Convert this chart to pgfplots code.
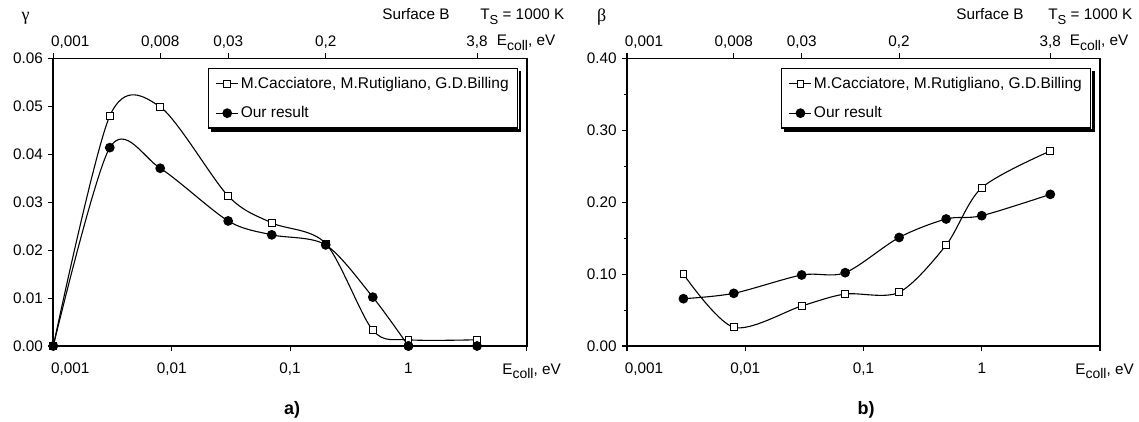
\documentclass[border=0pt]{standalone}
\usepackage{pgfplots}
\pgfplotsset{compat=1.18}
\usepackage{fontspec}
\setmainfont{Liberation Sans}
\newfontfamily\serifgr{Liberation Serif}

\newcommand{\Ecoll}{E\raisebox{-0.3em}{\fontsize{14}{14}\selectfont coll}, eV}
\newcommand{\Ts}{T\raisebox{-0.3em}{\fontsize{13}{13}\selectfont S} = 1000 K}

\begin{document}
\fontsize{15.3}{17}\selectfont
\begin{tikzpicture}
\useasboundingbox (0pt,0pt) rectangle (1139pt,421pt);

% ---------- panel a ----------
\begin{axis}[at={(53.3pt,75pt)}, anchor=south west, scale only axis,
  width=473.5pt, height=287.5pt,
  xmode=log, xmin=0.001, xmax=10, xminorticks=false,
  ymin=0, ymax=0.06, ytick={0,0.01,0.02,0.03,0.04,0.05,0.06},
  scaled y ticks=false,
  axis line style={line width=1.6pt},
  tick style={line width=1.1pt, black},
  tick align=outside, major tick length=5pt, minor tick length=3pt,
  clip=false,
  xtick pos=bottom, ytick pos=left,
  xtick={0.001,0.01,0.1,1,10},
  xticklabels={{\hspace*{34pt}0,001},{0,01},{0,1},{1},{}},
  xticklabel style={yshift=-7pt},
  yticklabel style={/pgf/number format/fixed, /pgf/number format/fixed zerofill, /pgf/number format/precision=2, /pgf/number format/assume math mode=true},
  legend style={at={(0.982,0.966)}, anchor=north east, draw=black, line width=1.2pt, fill=white,
      font=\fontsize{15.5}{18}\selectfont, inner xsep=7pt, inner ysep=6pt, row sep=12pt, name=legA},
  legend cell align=left,
  legend image code/.code={\draw[mark repeat=2,mark phase=2,#1] plot coordinates {(0pt,0pt) (11pt,0pt) (22pt,0pt)};},
]
\addplot[black, line width=1.1pt, smooth, mark=square*, mark size=3.4pt, mark options={fill=white, line width=0.9pt, solid}] coordinates {(0.001,0) (0.003,0.0480) (0.008,0.0499) (0.03,0.0313) (0.07,0.0257) (0.2,0.0214) (0.5,0.0033) (1,0.0013) (3.8,0.0013)};
\addlegendentry{M.Cacciatore, M.Rutigliano, G.D.Billing}
\addplot[black, line width=1.1pt, smooth, mark=*, mark size=4.3pt, mark options={fill=black}] coordinates {(0.001,0) (0.003,0.0414) (0.008,0.0371) (0.03,0.0261) (0.07,0.0232) (0.2,0.0211) (0.5,0.0102) (1,0)};
\addlegendentry{Our result}
\addplot[forget plot, black, line width=1.1pt, mark=*, mark size=4.3pt, mark options={fill=black}] coordinates {(1,0) (3.8,0)};
\end{axis}
\begin{axis}[at={(53.3pt,75pt)}, anchor=south west, scale only axis,
  width=473.5pt, height=287.5pt,
  xmode=log, xmin=0.001, xmax=10, xminorticks=false, ymin=0, ymax=1,
  axis x line*=top, axis y line=none,
  axis line style={line width=1.6pt},
  tick style={line width=1.1pt, black},
  tick align=outside, major tick length=5pt,
  xtick={0.001,0.008,0.03,0.2,3.8},
  xticklabels={{\hspace*{34pt}0,001},{0,008},{0,03},{0,2},{3,8}},
]
\end{axis}

% ---------- panel b ----------
\begin{axis}[at={(627pt,75pt)}, anchor=south west, scale only axis,
  width=473pt, height=287.5pt,
  xmode=log, xmin=0.001, xmax=10, xminorticks=false,
  ymin=0, ymax=0.4, ytick={0,0.1,0.2,0.3,0.4}, minor y tick num=1,
  scaled y ticks=false,
  axis line style={line width=1.6pt},
  tick style={line width=1.1pt, black},
  tick align=outside, major tick length=5pt, minor tick length=3pt,
  clip=false,
  xtick pos=bottom, ytick pos=left,
  xtick={0.001,0.01,0.1,1,10},
  xticklabels={{\hspace*{34pt}0,001},{0,01},{0,1},{1},{}},
  xticklabel style={yshift=-7pt},
  yticklabel style={/pgf/number format/fixed, /pgf/number format/fixed zerofill, /pgf/number format/precision=2, /pgf/number format/assume math mode=true},
  legend style={at={(0.982,0.966)}, anchor=north east, draw=black, line width=1.2pt, fill=white,
      font=\fontsize{15.5}{18}\selectfont, inner xsep=7pt, inner ysep=6pt, row sep=12pt, name=legB},
  legend cell align=left,
  legend image code/.code={\draw[mark repeat=2,mark phase=2,#1] plot coordinates {(0pt,0pt) (11pt,0pt) (22pt,0pt)};},
]
\addplot[black, line width=1.1pt, smooth, mark=square*, mark size=3.4pt, mark options={fill=white, line width=0.9pt, solid}] coordinates {(0.003,0.100) (0.008,0.026) (0.03,0.0557) (0.07,0.0723) (0.2,0.0747) (0.5,0.1405) (1,0.2202) (3.8,0.2713)};
\addlegendentry{M.Cacciatore, M.Rutigliano, G.D.Billing}
\addplot[black, line width=1.1pt, smooth, mark=*, mark size=4.3pt, mark options={fill=black}] coordinates {(0.003,0.0658) (0.008,0.0733) (0.03,0.0988) (0.07,0.102) (0.2,0.151) (0.5,0.1767) (1,0.1813) (3.8,0.211)};
\addlegendentry{Our result}
\end{axis}
\begin{axis}[at={(627pt,75pt)}, anchor=south west, scale only axis,
  width=473pt, height=287.5pt,
  xmode=log, xmin=0.001, xmax=10, xminorticks=false, ymin=0, ymax=1,
  axis x line*=top, axis y line=none,
  axis line style={line width=1.6pt},
  tick style={line width=1.1pt, black},
  tick align=outside, major tick length=5pt,
  xtick={0.001,0.008,0.03,0.2,3.8},
  xticklabels={{\hspace*{34pt}0,001},{0,008},{0,03},{0,2},{3,8}},
]
\end{axis}

% ---------- legend shadows ----------
\foreach \L in {legA,legB}{
  \fill[black] ([xshift=0.6pt,yshift=-2.5pt]\L.north east) rectangle ([xshift=3.1pt,yshift=-3.1pt]\L.south east);
  \fill[black] ([xshift=2.5pt,yshift=-0.6pt]\L.south west) rectangle ([xshift=3.1pt,yshift=-3.1pt]\L.south east);
}

% ---------- texts ----------
\node[font=\serifgr\fontsize{18}{18}\selectfont] at (25.6pt,403pt) {γ};
\node[font=\serifgr\fontsize{18}{18}\selectfont] at (601.7pt,404pt) {β};
\node[anchor=base] at (416pt,401pt) {Surface B};
\node[anchor=base west] at (475pt,401pt) {\Ts};
\node[anchor=base] at (990pt,401pt) {Surface B};
\node[anchor=base west] at (1043pt,401pt) {\Ts};
\node[anchor=base west] at (491.5pt,375pt) {\Ecoll};
\node[anchor=base west] at (1064.5pt,375pt) {\Ecoll};
\node[anchor=base west] at (497pt,47pt) {\Ecoll};
\node[anchor=base west] at (1070pt,47pt) {\Ecoll};
\node[font=\bfseries\fontsize{18}{18}\selectfont] at (292pt,11pt) {a)};
\node[font=\bfseries\fontsize{18}{18}\selectfont] at (866pt,11pt) {b)};
\end{tikzpicture}
\end{document}
